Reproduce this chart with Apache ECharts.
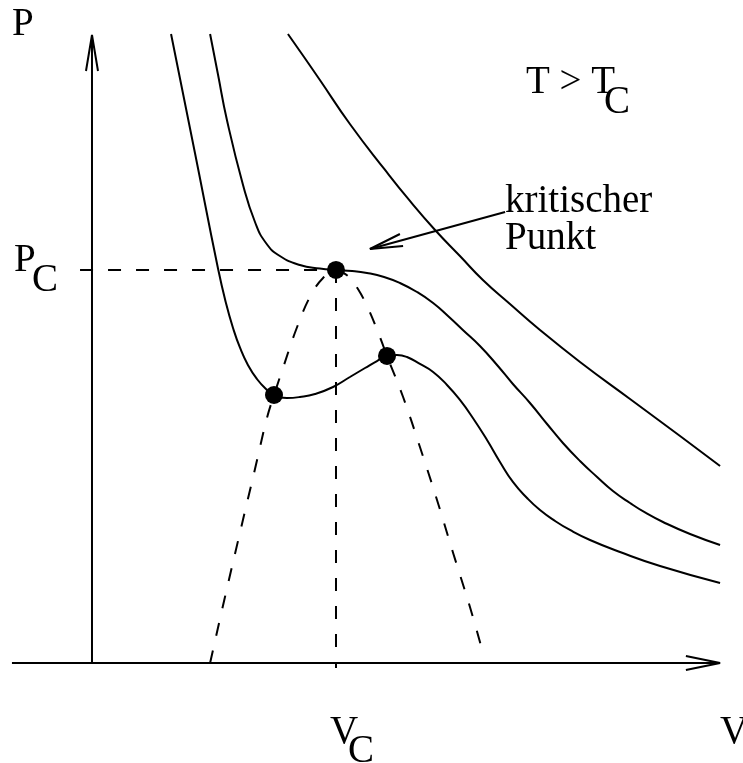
<!DOCTYPE html>
<html>
<head>
<meta charset="utf-8">
<script src="https://cdn.jsdelivr.net/npm/echarts@6/dist/echarts.min.js"></script>
<style>
  html, body { margin: 0; padding: 0; background: #ffffff; }
  #chart { width: 743px; height: 763px; }
</style>
</head>
<body>
<div id="chart"></div>
<script>
// Reduced van der Waals style p-V diagram: V in units of V_C, P in units of P_C.

// Isotherm below the critical temperature (with minimum and maximum)
const isothermBelow = [
  [0.324, 1.6005], [0.422, 1.2977], [0.516, 1.0051], [0.549, 0.9160], [0.578, 0.8524],
  [0.607, 0.8015], [0.639, 0.7583], [0.676, 0.7226], [0.713, 0.6972], [0.746, 0.6819],
  [0.799, 0.6743], [0.852, 0.6768], [0.914, 0.6845], [0.988, 0.7023], [1.057, 0.7277],
  [1.119, 0.7506], [1.168, 0.7684], [1.209, 0.7812], [1.250, 0.7837], [1.291, 0.7786],
  [1.344, 0.7608], [1.398, 0.7405], [1.455, 0.7074], [1.508, 0.6692], [1.561, 0.6234],
  [1.619, 0.5674], [1.672, 0.5115], [1.725, 0.4606], [1.783, 0.4198], [1.836, 0.3893],
  [1.898, 0.3613], [1.959, 0.3384], [2.041, 0.3130], [2.164, 0.2824], [2.328, 0.2468],
  [2.574, 0.2036]
];

// Critical isotherm (horizontal inflection at V_C, P_C)
const isothermCritical = [
  [0.484, 1.6005], [0.516, 1.4987], [0.553, 1.3817], [0.619, 1.2163], [0.668, 1.1221],
  [0.713, 1.0687], [0.770, 1.0356], [0.852, 1.0127], [0.934, 1.0038], [1.000, 1.0000],
  [1.066, 0.9975], [1.127, 0.9924], [1.197, 0.9822], [1.262, 0.9669], [1.332, 0.9440],
  [1.398, 0.9160], [1.459, 0.8830], [1.520, 0.8473], [1.590, 0.8066], [1.660, 0.7583],
  [1.725, 0.7099], [1.795, 0.6616], [1.865, 0.6081], [1.930, 0.5598], [2.000, 0.5140],
  [2.070, 0.4733], [2.135, 0.4377], [2.205, 0.4071], [2.270, 0.3817], [2.340, 0.3588],
  [2.451, 0.3282], [2.574, 0.3003]
];

// Isotherm above the critical temperature
const isothermAbove = [
  [0.803, 1.6005], [0.869, 1.5420], [0.934, 1.4835], [1.057, 1.3715], [1.201, 1.2545],
  [1.303, 1.1756], [1.406, 1.1018], [1.508, 1.0356], [1.602, 0.9746], [1.713, 0.9135],
  [1.836, 0.8473], [2.000, 0.7659], [2.205, 0.6718], [2.410, 0.5776], [2.574, 0.5013]
];

// Dashed boundary through the minima (left) and maxima (right)
const boundaryLeft = [
  [0.484, 0.0000], [0.545, 0.1679], [0.607, 0.3333], [0.668, 0.4936], [0.717, 0.6234],
  [0.746, 0.6819], [0.787, 0.7583], [0.836, 0.8473], [0.893, 0.9313], [0.947, 0.9796],
  [1.000, 1.0000]
];
const boundaryRight = [
  [1.000, 1.0000], [1.049, 0.9847], [1.090, 0.9517], [1.131, 0.9033], [1.172, 0.8422],
  [1.209, 0.7812], [1.275, 0.6768], [1.344, 0.5496], [1.414, 0.4148], [1.480, 0.2799],
  [1.549, 0.1425], [1.598, 0.0356]
];

// Guide lines to the critical values
const criticalVolumeLine = [[1.000, 1.0000], [1.000, -0.0127]];
const criticalPressureLine = [[-0.049, 1.0000], [1.000, 1.0000]];

// Marked points: critical point, minimum and maximum of the sub-critical isotherm
const markedPoints = [[1.000, 1.0000], [0.746, 0.6819], [1.209, 0.7812]];

// Coordinate axes with open arrow heads
const axisP = [[0, 0], [0, 1.5980]];
const axisPHead = [[-0.0246, 1.5064], [0, 1.5980], [0.0246, 1.5064]];
const axisV = [[-0.328, 0], [2.574, 0]];
const axisVHead = [[2.434, 0.0178], [2.574, 0], [2.434, -0.0178]];

// Pointer to the critical point
const pointerLine = [[1.693, 1.1476], [1.139, 1.0534]];
const pointerHead = [[1.262, 1.0916], [1.139, 1.0534], [1.275, 1.0611]];

// Text
const labelP = 'P';
const labelV = 'V';
const labelSub = 'C';
const labelTemp = 'T > T';
const labelCritical = ['kritischer', 'Punkt'];

const FONT = '39px "Liberation Serif", "Times New Roman", serif';
const INK = '#000000';

const chart = echarts.init(document.getElementById('chart'), null, { renderer: 'canvas' });

function solid(data, smooth) {
  return {
    type: 'line', data: data, showSymbol: false, smooth: smooth, silent: true,
    lineStyle: { color: INK, width: 2 }, z: 2
  };
}
function dashed(data, smooth) {
  return {
    type: 'line', data: data, showSymbol: false, smooth: smooth, silent: true,
    lineStyle: { color: INK, width: 2, type: [13, 15] }, z: 2
  };
}
function text(str, x, baseline) {
  // the glyph baseline sits about 0.78 of the font size below the box top
  return {
    type: 'text', left: x, top: baseline - 30, silent: true,
    style: { text: str, font: FONT, fill: INK }
  };
}

chart.setOption({
  animation: false,
  backgroundColor: '#ffffff',
  grid: { left: 0, right: 0, top: 0, bottom: 0, containLabel: false },
  xAxis: { type: 'value', min: -0.3770, max: 2.6680, show: false },
  yAxis: { type: 'value', min: -0.2545, max: 1.6870, show: false },
  series: [
    solid(axisP, false), solid(axisPHead, false),
    solid(axisV, false), solid(axisVHead, false),
    solid(isothermBelow, 0.5),
    solid(isothermCritical, 0.5),
    solid(isothermAbove, 0.5),
    dashed(boundaryLeft, 0.4),
    dashed(boundaryRight, 0.4),
    dashed(criticalVolumeLine, false),
    dashed(criticalPressureLine, false),
    solid(pointerLine, false), solid(pointerHead, false),
    {
      type: 'scatter', data: markedPoints, symbol: 'circle', symbolSize: 18, silent: true,
      itemStyle: { color: INK, opacity: 1 }, z: 5
    }
  ],
  graphic: [
    text(labelP, 12, 35),
    text(labelP, 14, 271), text(labelSub, 32, 291),
    text(labelV, 330, 743), text(labelSub, 348, 762),
    text(labelV, 720, 743),
    text(labelTemp, 526, 93), text(labelSub, 604, 113),
    text(labelCritical[0], 505, 212), text(labelCritical[1], 505, 249)
  ]
});
</script>
</body>
</html>
